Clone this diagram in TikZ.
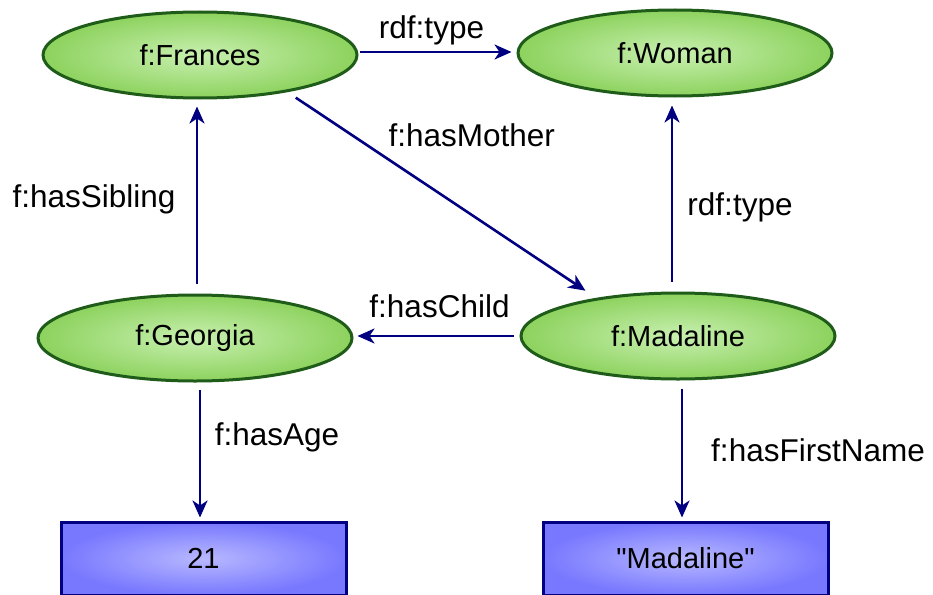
\documentclass[tikz,border=0pt]{standalone}
\usepackage{fontspec}
\setmainfont{Liberation Sans}
% a family without TeX ligatures, so that " stays a straight quote
\newfontfamily\rawsans{Liberation Sans}
\usetikzlibrary{shapes.geometric,arrows.meta}
\definecolor{navy}{HTML}{000080}
\definecolor{leafdark}{HTML}{1F5C1A}
\definecolor{leafin}{HTML}{C8F0B0}
\definecolor{leafout}{HTML}{8DD25E}
\definecolor{boxin}{HTML}{B8B8FF}
\definecolor{boxout}{HTML}{7878FF}
\tikzset{
  resource/.style={ellipse, draw=leafdark, line width=3pt, shading=radial,
    inner color=leafin, outer color=leafout, minimum width=314pt,
    minimum height=86pt, inner sep=0pt, font=\rawsans\fontsize{29}{34}\selectfont},
  literal/.style={rectangle, draw=navy, line width=3pt, shading=radial,
    inner color=boxin, outer color=boxout, minimum width=285pt,
    minimum height=73pt, inner sep=0pt, font=\rawsans\fontsize{29}{34}\selectfont},
  rel/.style={draw=navy, line width=2.6pt,
    -{Stealth[length=17pt, width=15pt, inset=5pt]}},
  lbl/.style={font=\rawsans\fontsize{31.5}{36}\selectfont, inner sep=0pt}
}
\begin{document}
\begin{tikzpicture}[x=1pt, y=-1pt]
\useasboundingbox (0,0) rectangle (933,594);

% resources
\node[resource] (fr) at (200,55) {f:Frances};
\node[resource] (wo) at (675,53) {f:Woman};
\node[resource] (ge) at (195,338) {f:Georgia};
\node[resource] (md) at (678,336) {f:Madaline};

% literals
\node[literal] (age) at (203.5,558.5) {21};
\node[literal] (nm) at (685.5,558.5) {"Madaline"};

% properties
\draw[rel, shorten <=1pt, shorten >=5pt] (fr.east |- 0,52) -- (wo.west |- 0,52)
  node[lbl, midway, xshift=-6pt, yshift=22pt] {rdf:type};
\draw[rel, shorten <=10pt, shorten >=13pt] (fr.-23) -- (md.155)
  node[lbl, pos=0.49, xshift=33pt, yshift=58pt] {f:hasMother};
\draw[rel, shorten <=10pt, shorten >=7pt] (ge.north -| 197,0) -- (fr.south -| 197,0)
  node[lbl, midway, xshift=-103pt, yshift=-3pt] {f:hasSibling};
\draw[rel, shorten <=10pt, shorten >=8pt] (md.north -| 672,0) -- (wo.south -| 672,0)
  node[lbl, midway, xshift=68pt, yshift=-13pt] {rdf:type};
\draw[rel, shorten <=6pt, shorten >=4pt] (md.west |- 0,336) -- (ge.east |- 0,336)
  node[lbl, midway, xshift=3pt, yshift=30pt] {f:hasChild};
\draw[rel, shorten <=7pt, shorten >=3pt] (ge.south -| 200,0) -- (age.north -| 200,0)
  node[lbl, pos=0.4, xshift=77pt, yshift=0pt] {f:hasAge};
\draw[rel, shorten <=8pt, shorten >=3pt] (md.south -| 682,0) -- (nm.north -| 682,0)
  node[lbl, pos=0.5, xshift=136pt, yshift=0pt] {f:hasFirstName};
\end{tikzpicture}
\end{document}
